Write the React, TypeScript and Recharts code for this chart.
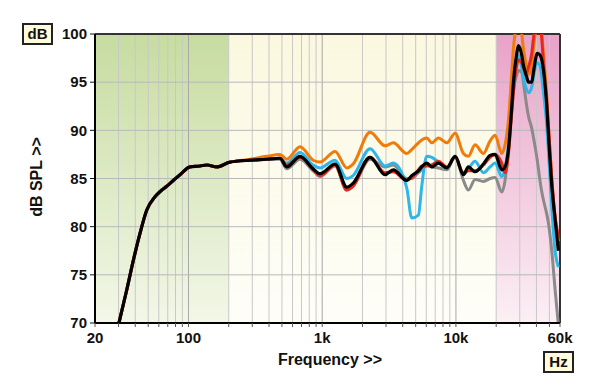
import { LineChart, Line, XAxis, YAxis, ReferenceArea, ReferenceLine } from 'recharts'

const FREQ = [
  30.2, 34.5, 38.7, 43.4, 48.7, 56.2, 62, 68.8, 77, 86.5, 102.6, 122, 137, 163, 204, 290, 384, 483,
  543, 683, 854, 964, 1248, 1527, 1702, 2280, 2950, 3400, 4290, 4670, 5240, 5550, 6050, 6600,
  7390, 8550, 9860, 11370, 12390, 13900, 16040, 18000, 19620, 22020, 23300, 24680, 26160,
  26900, 28520, 29320, 31060, 31940, 33860, 34820, 36900, 37940, 40660, 42600, 43860, 45080,
  47780, 49120, 52060, 55120, 58360,
]

const LOW = [70, 73.4, 76.5, 79.3, 81.7, 83.1, 83.7, 84.2, 84.8, 85.4, 86.2, 86.3, 86.4, 86.2, 86.7]

const BLACK = [
  ...LOW, 86.9, 87.0, 87.1,
  86.2, 87.3, 86.0, 85.5, 86.5, 84.1, 84.5, 87.2, 85.4, 85.9, 84.8, 85.3, 85.8, 86.2, 86.6, 86.2,
  86.6, 86.1, 87.3, 85.4, 86.2, 85.7, 86.5, 87.4, 87.5, 85.9, 86.2, 88.0, 92.5,
  95.0, 98.0, 98.8, 97.8, 96.8, 95.5, 95.0, 95.0, 96.0, 98.0, 97.8, 97.3, 96.3,
  92.5, 89.7, 84.3, 80.8, 77.5,
]
const ORANGE = [
  ...LOW, 87.0, 87.3, 87.5,
  87.0, 88.3, 86.9, 86.7, 87.8, 86.1, 86.5, 89.8, 88.4, 88.7, 87.6, 88.0, 88.7, 89.0, 89.2, 88.7,
  89.2, 88.7, 89.7, 87.6, 87.3, 88.5, 87.6, 88.9, 89.5, 87.6, 88.5, 91.0, 96.0,
  98.5, 101, 101.5, 100, 98.5, 96.5, 95.8, 96.5, 98.5, 101, 101.5, 100, 98.0,
  93.5, 90.5, 85.0, 81.0, 78.5,
]
const CYAN = [
  ...LOW, 86.9, 87.0, 87.1,
  86.6, 87.7, 86.4, 86.1, 86.9, 85.0, 85.3, 88.1, 86.3, 86.6, 84.0, 80.9, 81.2, 84.2, 87.3, 87.2,
  86.7, 86.1, 87.3, 85.4, 86.0, 86.8, 85.6, 86.2, 86.6, 85.2, 86.0, 88.5, 92.5,
  94.5, 97.0, 97.8, 96.5, 95.5, 94.2, 93.9, 94.5, 95.5, 97.0, 96.7, 95.5, 94.0,
  90.5, 88.0, 82.0, 77.5, 75.8,
]
const RED = [
  ...LOW, 86.9, 87.0, 87.1,
  86.4, 87.2, 86.0, 85.3, 86.4, 83.8, 84.2, 87.2, 85.6, 85.7, 84.8, 85.1, 85.9, 86.3, 86.3, 86.4,
  86.8, 86.2, 87.2, 85.6, 85.8, 85.8, 86.4, 87.2, 87.5, 86.6, 85.6, 87.5, 92.0,
  94.0, 96.8, 97.3, 97.0, 96.5, 96.0, 96.5, 98.0, 99.5, 101.5, 101.5, 99.5, 97.0,
  93.0, 90.5, 85.0, 81.0, 79.0,
]
const GRAY = [
  ...LOW, 86.9, 87.0, 87.0,
  86.0, 87.0, 85.8, 85.2, 86.3, 83.8, 84.2, 87.0, 86.2, 86.4, 85.0, 85.0, 85.6, 85.9, 86.4, 86.2,
  86.1, 85.9, 87.3, 84.8, 83.8, 84.9, 84.7, 85.0, 85.1, 83.6, 84.8, 88.0, 92.0,
  94.0, 95.8, 96.2, 96.0, 95.0, 92.5, 91.5, 90.2, 89.3, 86.8, 84.7, 83.6, 82.8,
  81.3, 80.4, 77.5, 73.5, 69.8,
]

const X_TICKS = [
  20, 30, 40, 50, 60, 70, 80, 90, 100, 200, 300, 400, 500, 600, 700, 800, 900,
  1000, 2000, 3000, 4000, 5000, 6000, 7000, 8000, 9000, 10000, 20000, 30000, 40000, 50000, 60000,
]
const X_LABELS: Record<number, string> = { 20: '20', 100: '100', 1000: '1k', 10000: '10k', 60000: '60k' }
const X_MAJOR = [100, 1000, 10000]
const Y_TICKS = [70, 75, 80, 85, 90, 95, 100]

const data = FREQ.map((f, i) => ({
  f,
  gray: GRAY[i],
  cyan: CYAN[i],
  orange: ORANGE[i],
  red: RED[i],
  black: BLACK[i],
}))

const FONT = '"Liberation Sans", Arial, sans-serif'

const boxStyle: React.CSSProperties = {
  position: 'absolute',
  width: 31,
  height: 22,
  boxSizing: 'border-box',
  border: '2px solid #222',
  background: '#fffbdc',
  font: `bold 15px ${FONT}`,
  lineHeight: '18px',
  textAlign: 'center',
  color: '#111',
}

export default function App() {
  return (
    <div style={{ position: 'absolute', left: 0, top: 0, width: 600, height: 389, background: '#fff', fontFamily: FONT }}>
      <LineChart width={600} height={389} data={data} margin={{ top: 34, right: 40, bottom: 0, left: 0 }}>
        <defs>
          <linearGradient id="gGreen" x1="0" y1="0" x2="0" y2="1">
            <stop offset="0%" stopColor="#c6dca0" />
            <stop offset="100%" stopColor="#f3f7e8" />
          </linearGradient>
          <linearGradient id="gCream" x1="0" y1="0" x2="0" y2="1">
            <stop offset="0%" stopColor="#fbf8df" />
            <stop offset="100%" stopColor="#fefef8" />
          </linearGradient>
          <linearGradient id="gPink" x1="0" y1="0" x2="0" y2="1">
            <stop offset="0%" stopColor="#e9a2c8" />
            <stop offset="100%" stopColor="#fbf0f4" />
          </linearGradient>
        </defs>
        <ReferenceArea x1={20} x2={200} y1={70} y2={100} fill="url(#gGreen)" fillOpacity={1} stroke="none" />
        <ReferenceArea x1={200} x2={20000} y1={70} y2={100} fill="url(#gCream)" fillOpacity={1} stroke="none" />
        <ReferenceArea x1={20000} x2={60000} y1={70} y2={100} fill="url(#gPink)" fillOpacity={1} stroke="none" />
        {X_TICKS.filter((v) => v > 20 && v < 60000).map((v) => (
          <ReferenceLine
            key={`x${v}`}
            x={v}
            stroke={X_MAJOR.includes(v) ? '#a8a8a8' : '#c8c8c8'}
            strokeWidth={1}
          />
        ))}
        {Y_TICKS.filter((v) => v > 70 && v < 100).map((v) => (
          <ReferenceLine key={`y${v}`} y={v} stroke="#b8b8b8" strokeWidth={1} />
        ))}
        <ReferenceLine y={100} stroke="#333" strokeWidth={2} />
        <ReferenceLine x={60000} stroke="#333" strokeWidth={2} />
        <XAxis
          dataKey="f"
          type="number"
          scale="log"
          domain={[20, 60000]}
          allowDataOverflow
          ticks={X_TICKS}
          interval={0}
          tickFormatter={(v: number) => X_LABELS[v] ?? ''}
          height={66}
          tickSize={4}
          tickMargin={5}
          axisLine={{ stroke: '#000', strokeWidth: 2 }}
          tickLine={{ stroke: '#555' }}
          tick={{ fill: '#111', fontSize: 15, fontWeight: 'bold', fontFamily: FONT }}
        />
        <YAxis
          type="number"
          domain={[70, 100]}
          allowDataOverflow
          ticks={Y_TICKS}
          interval={0}
          width={95}
          tickSize={5}
          tickMargin={3}
          axisLine={{ stroke: '#000', strokeWidth: 2 }}
          tickLine={{ stroke: '#111' }}
          tick={{ fill: '#111', fontSize: 15, fontWeight: 'bold', fontFamily: FONT }}
        />
        <Line dataKey="gray" type="monotone" stroke="#8a8a8a" strokeWidth={3} dot={false} isAnimationActive={false} />
        <Line dataKey="cyan" type="monotone" stroke="#2db7e8" strokeWidth={3} dot={false} isAnimationActive={false} />
        <Line dataKey="orange" type="monotone" stroke="#f07a0a" strokeWidth={3} dot={false} isAnimationActive={false} />
        <Line dataKey="red" type="monotone" stroke="#e8281c" strokeWidth={3} dot={false} isAnimationActive={false} />
        <Line dataKey="black" type="monotone" stroke="#000" strokeWidth={3.2} dot={false} isAnimationActive={false} />
      </LineChart>
      <div style={{ ...boxStyle, left: 22, top: 23 }}>dB</div>
      <div style={{ ...boxStyle, left: 543, top: 351 }}>Hz</div>
      <div
        style={{
          position: 'absolute',
          left: 230,
          top: 351,
          width: 200,
          textAlign: 'center',
          font: `bold 16px ${FONT}`,
          color: '#111',
        }}
      >
        Frequency &gt;&gt;
      </div>
      <div
        style={{
          position: 'absolute',
          left: 37,
          top: 177,
          transform: 'translate(-50%, -50%) rotate(-90deg)',
          whiteSpace: 'nowrap',
          font: `bold 16px ${FONT}`,
          color: '#111',
        }}
      >
        dB SPL &gt;&gt;
      </div>
    </div>
  )
}
